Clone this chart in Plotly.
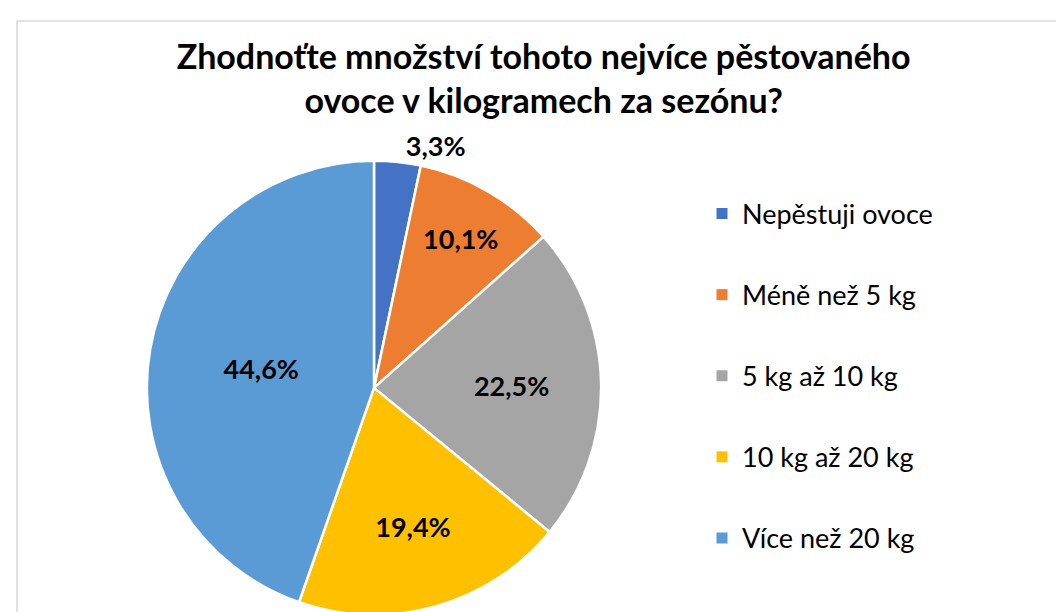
import plotly.graph_objects as go

# Data
categories = ["Nepěstuji ovoce", "Méně než 5 kg", "5 kg až 10 kg", "10 kg až 20 kg", "Více než 20 kg"]
shares = [3.3, 10.1, 22.5, 19.4, 44.6]
colors = ["#4472C4", "#ED7D31", "#A5A5A5", "#FFC000", "#5B9BD5"]
title = "Zhodnoťte množství tohoto nejvíce pěstovaného<br>ovoce v kilogramech za sezónu?"

fig = go.Figure()

fig.add_trace(go.Pie(
    labels=categories,
    values=shares,
    sort=False,
    direction="clockwise",
    rotation=0,
    marker=dict(colors=colors, line=dict(color="white", width=2.5)),
    texttemplate="%{value:.1f}%",
    textposition=["outside", "inside", "inside", "inside", "inside"],
    insidetextorientation="horizontal",
    textfont=dict(family="Lato", size=27, color="black", weight="bold"),
    domain=dict(x=[137 / 1064, 595 / 1064], y=[0, 458 / 612]),
    showlegend=False,
    hoverinfo="label+percent",
))

# legend entries (one group each so they can be spaced apart)
for name, col in zip(categories, colors):
    fig.add_trace(go.Scatter(
        x=[None], y=[None], mode="markers", name=name,
        marker=dict(symbol="square", size=11, color=col),
        legendgroup=name, showlegend=True,
    ))

fig.update_layout(
    width=1064, height=612,
    margin=dict(l=0, r=0, t=0, b=0),
    paper_bgcolor="white", plot_bgcolor="white",
    separators=", ",
    font=dict(family="Lato", color="black"),
    title=dict(text=title, x=0.5034, xanchor="center", y=1 - 61 / 612, yanchor="top",
               font=dict(family="Lato", size=34, color="black", weight="bold")),
    xaxis=dict(visible=False), yaxis=dict(visible=False),
    legend=dict(x=694 / 1064, xanchor="left", y=1 - 183 / 612, yanchor="top",
                font=dict(family="Lato", size=27, color="black"),
                tracegroupgap=43, itemclick=False),
    shapes=[dict(type="rect", xref="paper", yref="paper",
                 x0=9 / 1064, x1=1.02, y0=-0.02, y1=1 - 13 / 612,
                 line=dict(color="#D9D9D9", width=1.5), layer="below")],
)

fig.write_html("out.html")
